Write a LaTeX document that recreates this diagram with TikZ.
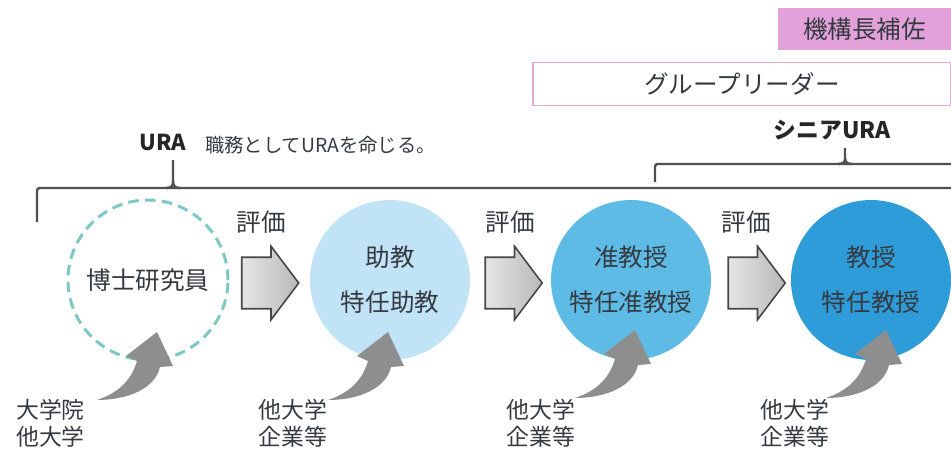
\documentclass[tikz,border=0pt]{standalone}
\usepackage{fontspec}
\newfontfamily\jpfont{Noto Sans CJK JP}
\usepackage{xcolor}
\usepackage{tikz}
\usetikzlibrary{shapes.arrows}
\usetikzlibrary{positioning}
\definecolor{txtgray}{HTML}{353A40}
\definecolor{lineg}{HTML}{505050}
\definecolor{pinkfill}{HTML}{E2A2D9}
\definecolor{pinkline}{HTML}{EBAAD4}
\definecolor{tealdash}{HTML}{7CC8C2}
\definecolor{blueA}{HTML}{C0E3F6}
\definecolor{blueB}{HTML}{5DBBE6}
\definecolor{blueC}{HTML}{2E9CD8}
\definecolor{arrgray}{HTML}{8E8E8E}
\tikzset{
    jp/.style = {font=\jpfont\fontsize{14}{25.5}\selectfont, text=txtgray},
    post/.style = {circle, minimum size=3.2cm, inner sep=0pt, align=center, jp},
    evalarrow/.style = {single arrow, draw=gray!55!black, left color=gray!20, right color=gray!55, line width=0.9pt, minimum height=1.14cm, inner xsep=0pt, inner ysep=0.5cm, single arrow head extend=0.22cm, single arrow tip angle=106},
    evallbl/.style = {jp},
    fromlbl/.style = {font=\jpfont\fontsize{13}{15.4}\selectfont, text=txtgray, align=center},
    bracket/.style = {draw=lineg, line width=1.4pt, rounded corners=1.5pt},
    swoosh/.pic = {
        \fill[arrgray] (-60,68) .. controls (-36,60) and (-25,46) .. (-20,29) -- (-31,24) -- (0,0) -- (16,34) -- (3,35) .. controls (-2,57) and (-30,68) .. (-60,68) -- cycle;
    },
}
\begin{document}
\begin{tikzpicture}[x=0.02cm, y=-0.02cm]
\useasboundingbox (0,0) rectangle (951,450);
% top boxes
\node[rectangle, fill=pinkfill, minimum width=3.46cm, minimum height=0.84cm, jp] (kikou) at (864.5,29) {機構長補佐};
\node[rectangle, draw=pinkline, line width=1pt, minimum width=8.36cm, minimum height=0.86cm, jp] (leader) at (742,84) {グループリーダー};
\node[font=\jpfont\bfseries\fontsize{13}{15}\selectfont, text=black!85] (senior) at (832,130) {シニアURA};
%
\node[font=\jpfont\bfseries\fontsize{12.5}{15}\selectfont, text=black!85] (ura) at (163,142) {URA};
\node[font=\jpfont\fontsize{11}{13}\selectfont, text=txtgray, anchor=west] (duty) at (199,145) {職務としてURAを命じる。};
% brackets
\draw[bracket] (37,222) -- (37,188) -- (951,188);
\draw[bracket] (166,188) .. controls (171,188) and (173,186) .. (173,181) -- (173,160);
\draw[bracket] (180,188) .. controls (175,188) and (173,186) .. (173,181);
\draw[bracket] (655,182) -- (655,164) -- (951,164);
\draw[bracket] (838,164) .. controls (843,164) and (845,162) .. (845,158) -- (845,148);
\draw[bracket] (852,164) .. controls (847,164) and (845,162) .. (845,158);
% posts
\node[post, draw=tealdash, line width=1.7pt, dash pattern=on 6pt off 3.6pt] at (148,280) (pd) {博士研究員};
\node[post, fill=blueA] at (390,280) (asst) {助教\\特任助教};
\node[post, fill=blueB] at (631,280) (assoc) {准教授\\特任准教授};
\node[post, fill=blueC] at (871,280) (prof) {教授\\特任教授};
%
\node[evalarrow] at (260.5,283) (e1) {};
\node[evalarrow] at (504,283) (e2) {};
\node[evalarrow] at (747,283) (e3) {};
\node[evallbl] at (261,222) (l1) {評価};
\node[evallbl] at (510,222) (l2) {評価};
\node[evallbl] at (746,222) (l3) {評価};
% entry routes
\node[fromlbl, align=left, anchor=west] at (10,423) (f0) {大学院\\他大学};
\node[fromlbl] at (293,423) (f1) {他大学\\企業等};
\node[fromlbl] at (541,423) (f2) {他大学\\企業等};
\node[fromlbl] at (795,423) (f3) {他大学\\企業等};
\pic at (157,332) {swoosh};
\pic at (388,332) {swoosh};
\pic at (635,330) {swoosh};
\pic at (886,330) {swoosh};
\end{tikzpicture}
\end{document}
